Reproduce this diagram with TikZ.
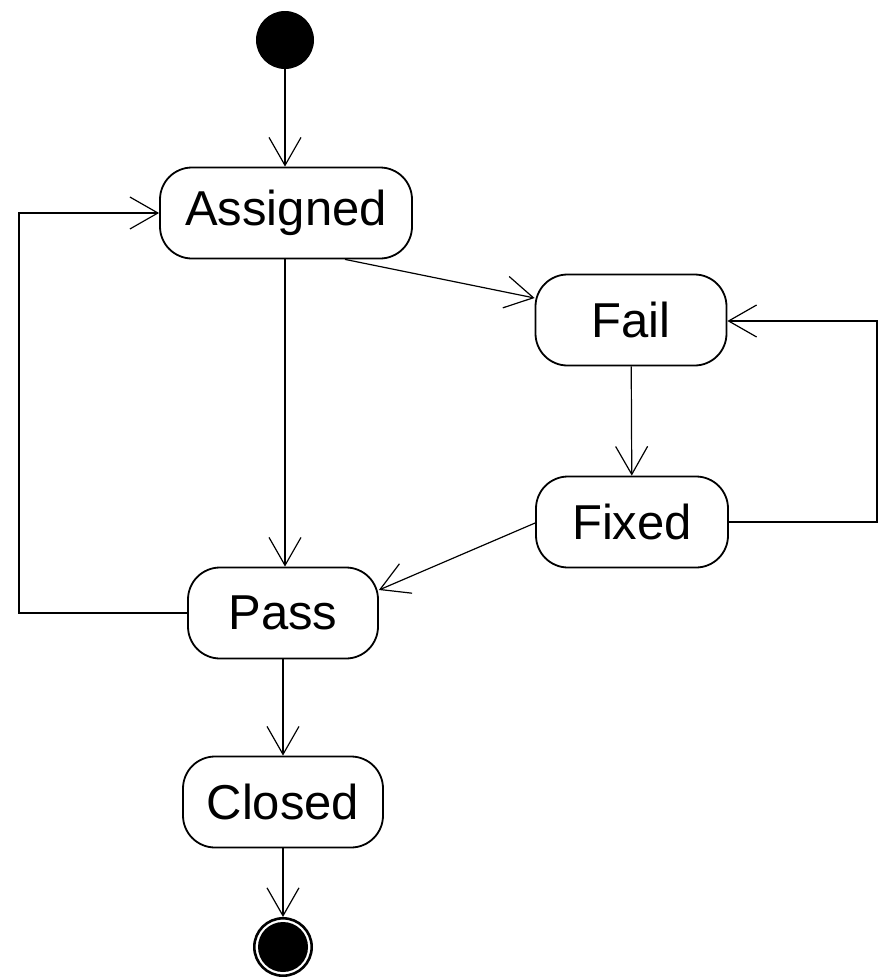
\documentclass[tikz,border=0pt]{standalone}
\usepackage{fontspec}
\setmainfont{Liberation Sans}
\usetikzlibrary{arrows.meta}
\begin{document}
\begin{tikzpicture}[x=1pt,y=-1pt,
  state/.style={draw, line width=1.8pt, rounded corners=32pt, inner sep=0pt,
    minimum height=91pt, font=\fontsize{49}{52}\selectfont},
  conn/.style={line width=1.2pt, -{Straight Barb[length=28pt,width=32pt,line width=1.2pt]}},
  plain/.style={line width=1.2pt}]
\useasboundingbox (0,0) rectangle (878,977);
\node[circle, fill=black, minimum size=58pt, inner sep=0pt] (init) at (285,40) {};
\node[state, minimum width=252pt] (assigned) at (286,213) {Assigned};
\node[state, minimum width=191pt] (fail) at (631,320) {Fail};
\node[state, minimum width=192pt] (fixed) at (632,522) {Fixed};
\node[state, minimum width=190pt] (pass) at (283,613) {Pass};
\node[state, minimum width=200pt] (closed) at (283,802) {Closed};
\node[circle, draw, line width=2.6pt, minimum size=57.4pt, inner sep=0pt] (final) at (283,947) {};
\fill (final.center) circle[radius=25pt];

\coordinate (lt) at (19,613);
\coordinate (lb) at (19,213);
\coordinate (rb) at (877,522);
\coordinate (rt) at (877,321);

\draw[conn] (init) -- (init |- assigned.north);
\draw[conn] ([xshift=59pt]assigned.south) -- ([yshift=22pt]fail.west);
\draw[conn] ([xshift=-1pt]assigned.south) -- ([xshift=-1pt]assigned.south |- pass.north);
\draw[conn] (fail) -- (fixed);
\draw[conn] ([yshift=-1pt]fixed.west) -- ([yshift=23pt]pass.east);
\draw[conn] (fixed.east) -- (rb) -- (rt) -- ([yshift=-1pt]fail.east);
\draw[conn] (pass.west) -- (lt) -- (lb) -- (assigned.west);
\draw[conn] (pass) -- (closed);
\draw[conn] (closed) -- (final);
\end{tikzpicture}
\end{document}
